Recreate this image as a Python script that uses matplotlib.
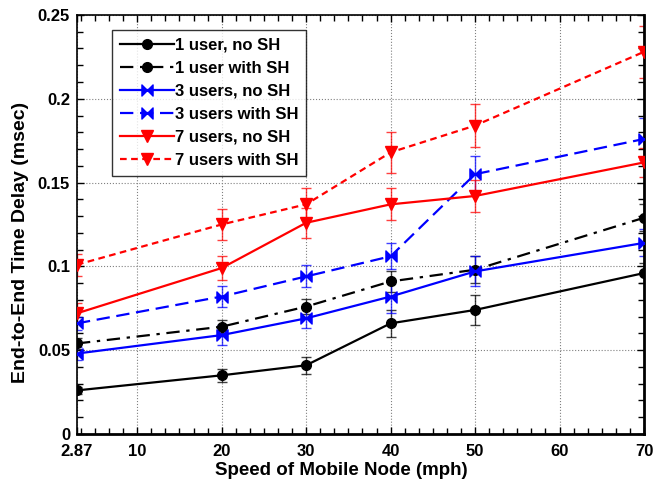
import matplotlib
matplotlib.use("Agg")
import matplotlib.pyplot as plt
import numpy as np
from matplotlib.path import Path
from matplotlib.ticker import MultipleLocator, FixedLocator

plt.rcParams['font.family'] = ['Liberation Sans', 'DejaVu Sans']
plt.rcParams['font.weight'] = 'bold'

# speeds (mph)
speed = [2.87, 20, 30, 40, 50, 70]

# mean delays (msec) and error half-widths
one_no_sh = [0.026, 0.035, 0.041, 0.066, 0.074, 0.096]
one_no_sh_err = [0.002, 0.004, 0.005, 0.008, 0.009, 0.006]
one_sh = [0.054, 0.064, 0.076, 0.091, 0.098, 0.129]
one_sh_err = [0.003, 0.004, 0.0045, 0.006, 0.008, 0.008]
three_no_sh = [0.048, 0.059, 0.069, 0.082, 0.097, 0.114]
three_no_sh_err = [0.004, 0.006, 0.006, 0.01, 0.009, 0.008]
three_sh = [0.066, 0.082, 0.094, 0.106, 0.155, 0.176]
three_sh_err = [0.004, 0.006, 0.0066, 0.0078, 0.011, 0.0125]
seven_no_sh = [0.072, 0.099, 0.126, 0.137, 0.142, 0.162]
seven_no_sh_err = [0.006, 0.007, 0.009, 0.0095, 0.0098, 0.0085]
seven_sh = [0.101, 0.125, 0.137, 0.168, 0.184, 0.228]
seven_sh_err = [0.0065, 0.009, 0.0095, 0.012, 0.013, 0.0155]

labels = ['1 user, no SH', '1 user with SH', '3 users, no SH',
          '3 users with SH', '7 users, no SH', '7 users with SH']

# bowtie marker for the 3-user series
bowtie = Path([(-1, -1), (0, 0), (-1, 1), (-1, -1),
               (1, -1), (0, 0), (1, 1), (1, -1)],
              [Path.MOVETO, Path.LINETO, Path.LINETO, Path.CLOSEPOLY,
               Path.MOVETO, Path.LINETO, Path.LINETO, Path.CLOSEPOLY])

series = [
    (one_no_sh, one_no_sh_err, 'black', '-', 'o', 7),
    (one_sh, one_sh_err, 'black', (0, (6, 3, 1.5, 3)), 'o', 7),
    (three_no_sh, three_no_sh_err, 'blue', '-', bowtie, 8),
    (three_sh, three_sh_err, 'blue', (0, (6, 3)), bowtie, 8),
    (seven_no_sh, seven_no_sh_err, 'red', '-', 'v', 8.5),
    (seven_sh, seven_sh_err, 'red', (0, (3, 2)), 'v', 8.5),
]

fig = plt.figure(figsize=(6.54, 4.93), dpi=100)
ax = fig.add_axes([0.1177, 0.1197, 0.867, 0.85])

for (vals, errs, color, ls, marker, ms), label in zip(series, labels):
    ax.errorbar(speed, vals, yerr=errs, fmt='none', ecolor=color,
                elinewidth=1, capsize=3.5, capthick=1, alpha=0.75)
    ax.plot(speed, vals, color=color, linestyle=ls, linewidth=1.6,
            marker=marker, markersize=ms, markerfacecolor=color,
            markeredgecolor=color, label=label, zorder=3)

ax.set_xlim(2.87, 70)
ax.set_ylim(0, 0.25)
ax.xaxis.set_major_locator(FixedLocator([2.87, 10, 20, 30, 40, 50, 60, 70]))
ax.set_xticklabels(['2.87', '10', '20', '30', '40', '50', '60', '70'])
ax.xaxis.set_minor_locator(MultipleLocator(10 / 6))
ax.set_yticks([0, 0.05, 0.1, 0.15, 0.2, 0.25])
ax.set_yticklabels(['0', '0.05', '0.1', '0.15', '0.2', '0.25'])
ax.yaxis.set_minor_locator(MultipleLocator(0.01))

ax.tick_params(which='both', direction='in', top=True, right=True,
               labelsize=12, width=1)
ax.tick_params(which='major', length=5)
ax.tick_params(which='minor', length=4)
ax.tick_params(axis='x', pad=7)
ax.tick_params(axis='y', pad=5)

for side in ['left', 'top']:
    ax.spines[side].set_linewidth(1.2)
for side in ['bottom', 'right']:
    ax.spines[side].set_linewidth(2)

ax.grid(True, which='major', linestyle=':', color='gray', linewidth=0.8)

ax.set_xlabel('Speed of Mobile Node (mph)', fontsize=13.5, fontweight='bold')
ax.xaxis.set_label_coords(0.467, -0.067)
ax.set_ylabel('End-to-End Time Delay (msec)', fontsize=14, fontweight='bold')
ax.yaxis.set_label_coords(-0.085, 0.458)

leg = ax.legend(loc='upper left', bbox_to_anchor=(0.062, 0.965), fontsize=12,
                handlelength=3.2, handletextpad=0.05, frameon=True, fancybox=False,
                borderpad=0.5, labelspacing=0.48, borderaxespad=0)
leg.get_frame().set_edgecolor('black')
leg.get_frame().set_linewidth(1)
for t in leg.get_texts():
    t.set_fontweight('bold')

fig.savefig('out.png', dpi=100)
